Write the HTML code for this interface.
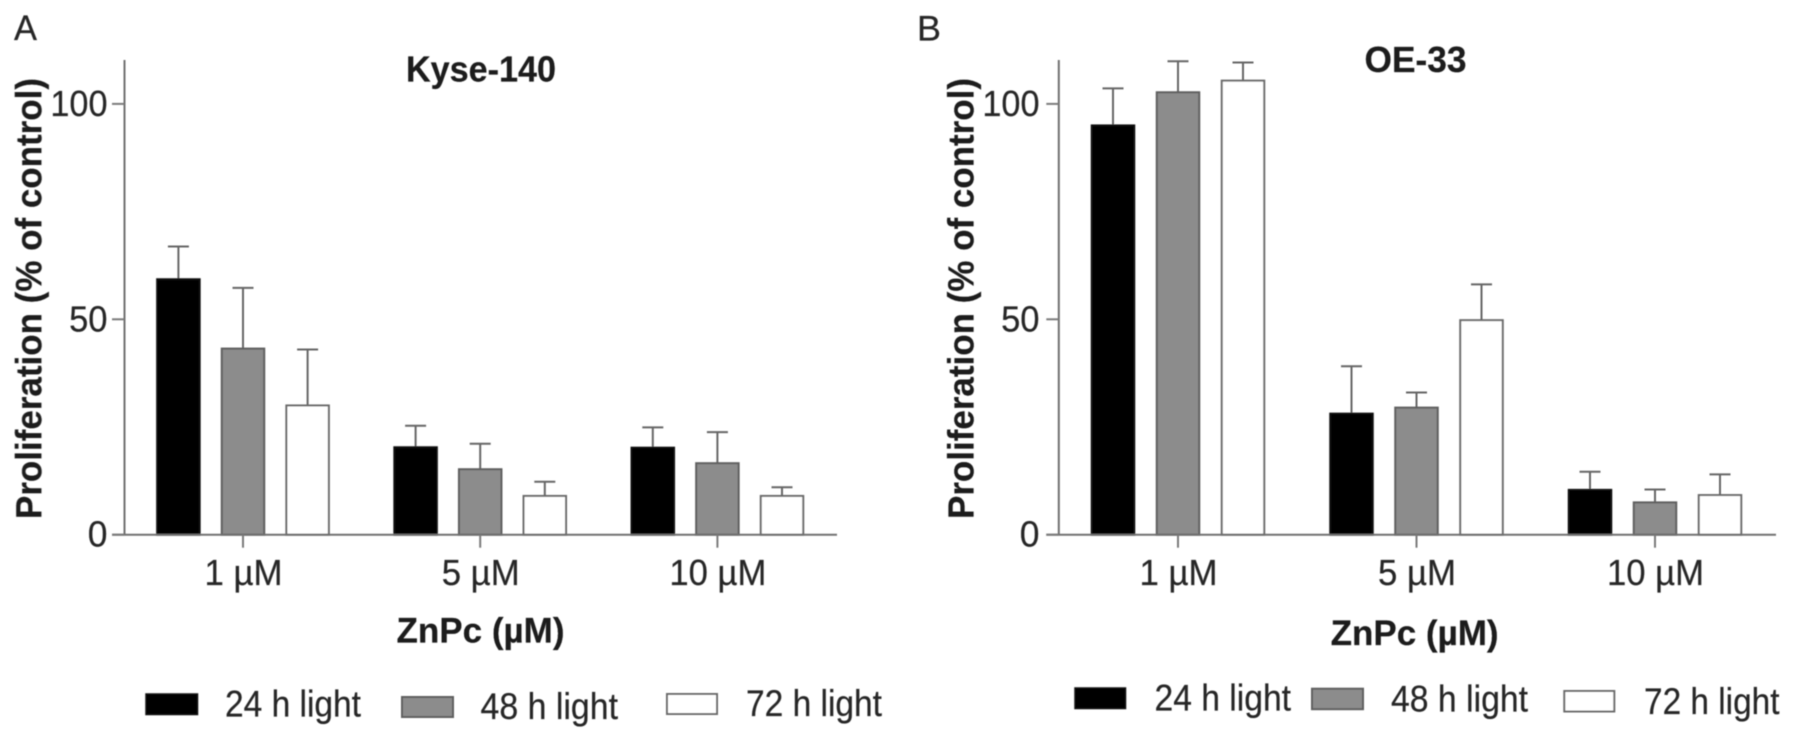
<!DOCTYPE html>
<html lang="en">
<head>
<meta charset="utf-8">
<title>ZnPc proliferation charts</title>
<style>
html,body{margin:0;padding:0;background:#fff;width:1795px;height:743px;overflow:hidden}
svg{display:block}
text{font-family:"Liberation Sans",Arial,sans-serif;fill:#262626;stroke:#262626;stroke-width:0.2px}
.bold{font-weight:bold;fill:#1c1c1c;stroke:#1c1c1c}
.tick{font-size:36px}
.leg{font-size:37px}
</style>
</head>
<body>
<svg id="chart" xmlns="http://www.w3.org/2000/svg" width="1795" height="743" viewBox="0 0 1795 743">
  <defs><filter id="soft" x="-2%" y="-2%" width="104%" height="104%"><feGaussianBlur stdDeviation="0.65"/></filter></defs>
  <rect x="0" y="0" width="1795" height="743" fill="#fff"/>
  <g id="root" filter="url(#soft)">
    <text x="14" y="40" font-size="35" textLength="23" lengthAdjust="spacingAndGlyphs">A</text>
    <text x="917" y="40.5" font-size="35" textLength="24" lengthAdjust="spacingAndGlyphs">B</text>

    <text class="bold" x="481" y="81.7" font-size="36" text-anchor="middle" textLength="150" lengthAdjust="spacingAndGlyphs">Kyse-140</text>
    <text class="bold" x="1415.5" y="72" font-size="36" text-anchor="middle" textLength="102" lengthAdjust="spacingAndGlyphs">OE-33</text>

    <text class="bold" transform="translate(41.3,298.5) rotate(-90)" font-size="36" text-anchor="middle" textLength="441" lengthAdjust="spacingAndGlyphs">Proliferation (% of control)</text>
    <text class="bold" transform="translate(973.5,298.5) rotate(-90)" font-size="36" text-anchor="middle" textLength="441" lengthAdjust="spacingAndGlyphs">Proliferation (% of control)</text>

    <text class="bold" x="480.5" y="642.7" font-size="35" text-anchor="middle" textLength="168" lengthAdjust="spacingAndGlyphs">ZnPc (µM)</text>
    <text class="bold" x="1414.6" y="645" font-size="35" text-anchor="middle" textLength="168" lengthAdjust="spacingAndGlyphs">ZnPc (µM)</text>

    <g>
      <rect x="146" y="694" width="51.5" height="20.5" fill="#000" stroke="#111" stroke-width="1.5"/>
      <text class="leg" x="225" y="716.7" textLength="136" lengthAdjust="spacingAndGlyphs">24 h light</text>
      <rect x="402" y="697" width="51" height="20" fill="#8c8c8c" stroke="#5f5f5f" stroke-width="2"/>
      <text class="leg" x="480.5" y="719" textLength="137.5" lengthAdjust="spacingAndGlyphs">48 h light</text>
      <rect x="667" y="694" width="50" height="20" fill="#fff" stroke="#6a6a6a" stroke-width="2"/>
      <text class="leg" x="746" y="716" textLength="136" lengthAdjust="spacingAndGlyphs">72 h light</text>
    </g>
    <g>
      <rect x="1075" y="688" width="50.5" height="20.5" fill="#000" stroke="#111" stroke-width="1.5"/>
      <text class="leg" x="1154.5" y="710.7" textLength="136.5" lengthAdjust="spacingAndGlyphs">24 h light</text>
      <rect x="1312" y="688.7" width="51" height="20.5" fill="#8c8c8c" stroke="#5f5f5f" stroke-width="2"/>
      <text class="leg" x="1391" y="711.7" textLength="137" lengthAdjust="spacingAndGlyphs">48 h light</text>
      <rect x="1564.3" y="691" width="50" height="20.5" fill="#fff" stroke="#6a6a6a" stroke-width="2"/>
      <text class="leg" x="1644" y="714" textLength="135.5" lengthAdjust="spacingAndGlyphs">72 h light</text>
    </g>
  </g>
</svg>
<script>
var categories = ['1 µM', '5 µM', '10 µM'];
var seriesKeys = ['24h', '48h', '72h'];
var yTickValues = [0, 50, 100];
var yTickLabels = ['0', '50', '100'];

var kyse24Means = [59.3, 20.3, 20.2];
var kyse24Upper = [66.9, 25.3, 24.9];
var kyse48Means = [43.2, 15.2, 16.6];
var kyse48Upper = [57.3, 21.1, 23.8];
var kyse72Means = [30.0, 9.0, 9.0];
var kyse72Upper = [43.0, 12.3, 11.0];

var oe24Means = [95.0, 28.1, 10.4];
var oe24Upper = [103.6, 39.1, 14.6];
var oe48Means = [102.7, 29.5, 7.5];
var oe48Upper = [109.9, 33.0, 10.5];
var oe72Means = [105.4, 49.8, 9.2];
var oe72Upper = [109.6, 58.1, 14.0];

var SVGNS = 'http://www.w3.org/2000/svg';
var root = document.getElementById('root');
var yScale = function (v) { return 534.7 - 4.308 * v; };
var fills = ['#000000', '#8c8c8c', '#ffffff'];
var strokes = ['#111111', '#5f5f5f', '#6a6a6a'];

function make(tag, parent, attrs) {
  var el = document.createElementNS(SVGNS, tag);
  for (var k in attrs) { el.setAttribute(k, attrs[k]); }
  parent.appendChild(el);
  return el;
}

function drawPanel(prefix, axisX, axisEnd, tickLabelX, groupStart, groupStep, barStep, means, uppers) {
  var xScale = function (g) { return groupStart + g * groupStep; };
  var g = make('g', root, {});
  
  

  means.forEach(function (seriesMeans, s) {
    seriesMeans.forEach(function (value, c) {
      var cx = xScale(c) + (s - 1) * barStep;
      var top = yScale(uppers[s][c]);
      var barTop = yScale(value);
      var stem = make('path', g, { d: 'M' + cx + ' ' + barTop + 'V' + top + 'M' + (cx - 10.5) + ' ' + top + 'H' + (cx + 10.5), fill: 'none', stroke: '#666', 'stroke-width': 2 });
      
      
      var bar = make('rect', g, { x: cx - 21.25, y: barTop, width: 42.5, height: yScale(0) - barTop, fill: fills[s], stroke: strokes[s], 'stroke-width': 2 });
      
      
    });
  });

  var yAxis = make('line', g, { x1: axisX, x2: axisX, y1: 60, y2: yScale(0), stroke: '#707070', 'stroke-width': 2 });
  
  
  var xAxis = make('line', g, { x1: axisX - 12.5, x2: axisEnd, y1: yScale(0), y2: yScale(0), stroke: '#707070', 'stroke-width': 2 });
  
  

  yTickValues.forEach(function (v, i) {
    var y = yScale(v);
    var t = make('line', g, { x1: axisX - 12.5, x2: axisX, y1: y, y2: y, stroke: '#7a7a7a', 'stroke-width': 2 });
    
    
    var l = make('text', g, { x: tickLabelX, y: y + 12, 'text-anchor': 'end', 'class': 'tick', textLength: yTickLabels[i].length * 18.7 + 1, lengthAdjust: 'spacingAndGlyphs' });
    
    
    l.textContent = yTickLabels[i];
  });

  categories.forEach(function (name, c) {
    var x = xScale(c);
    var t = make('line', g, { x1: x, x2: x, y1: yScale(0), y2: yScale(0) + 13, stroke: '#7a7a7a', 'stroke-width': 2 });
    
    
    var l = make('text', g, { x: x + 0.5, y: 585, 'text-anchor': 'middle', 'class': 'tick', textLength: 78 + (name.length - 4) * 19, lengthAdjust: 'spacingAndGlyphs' });
    
    
    l.textContent = name;
  });
}

drawPanel('panel-a', 124.5, 837, 107.5, 243, 237.2, 64.6,
  [kyse24Means, kyse48Means, kyse72Means],
  [kyse24Upper, kyse48Upper, kyse72Upper]);
drawPanel('panel-b', 1058.8, 1776, 1039.5, 1178, 238.5, 65,
  [oe24Means, oe48Means, oe72Means],
  [oe24Upper, oe48Upper, oe72Upper]);
</script>
</body>
</html>
